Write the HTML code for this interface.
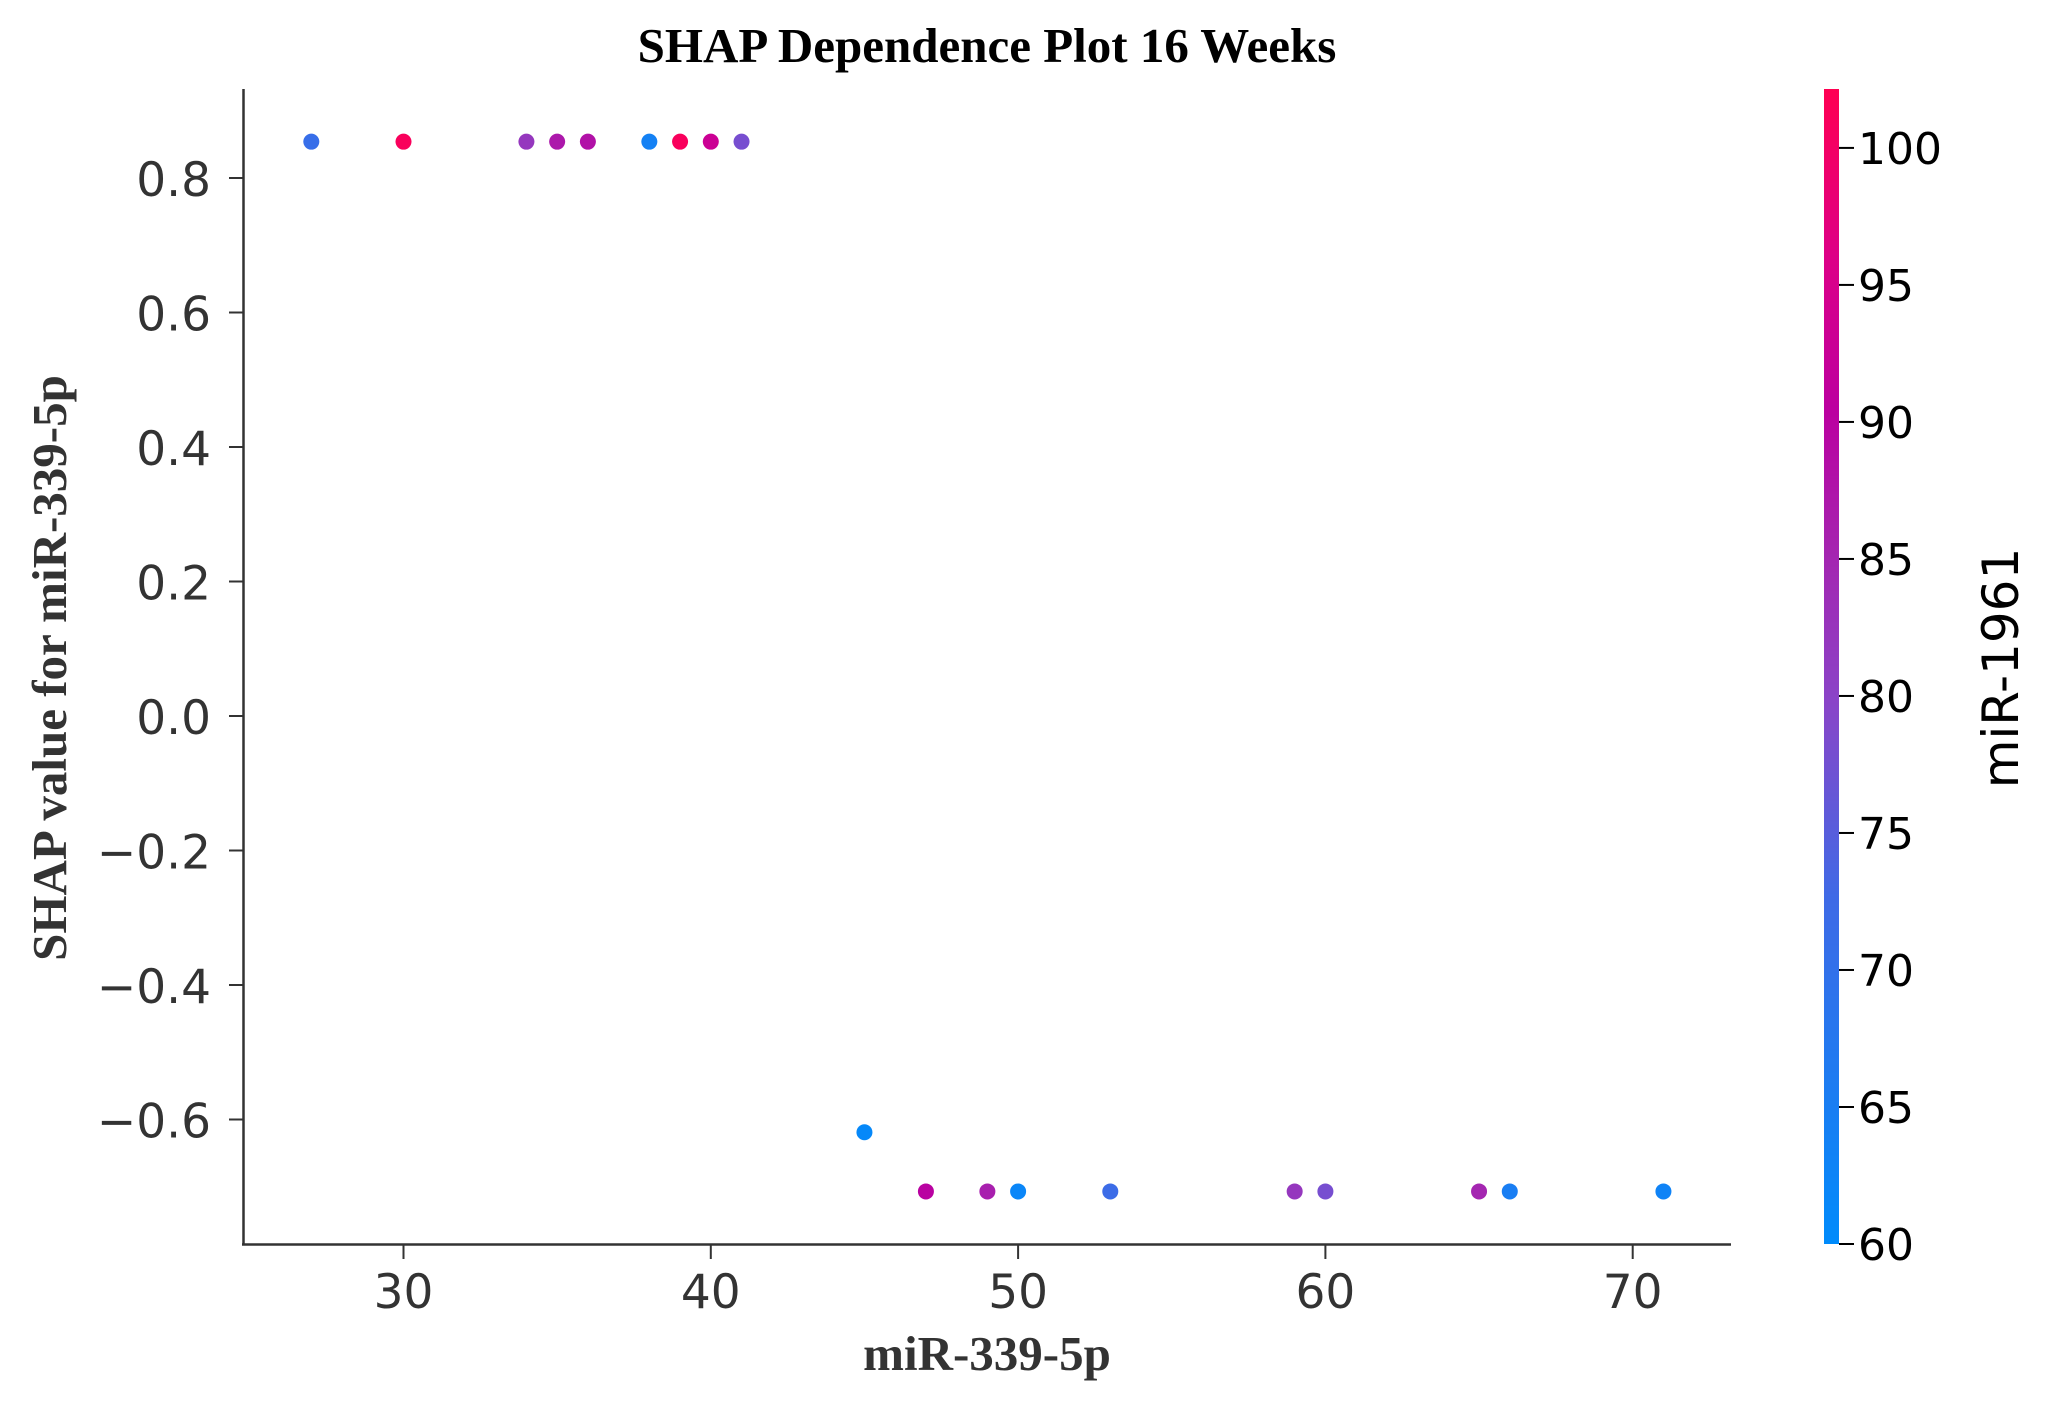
<!DOCTYPE html>
<html><head><meta charset="utf-8"><style>
html,body{margin:0;padding:0;background:#fff}
svg{display:block}
</style></head><body>
<svg id="chart" width="2053" height="1411" xmlns="http://www.w3.org/2000/svg">
<defs>
<linearGradient id="cbgrad" x1="0" y1="1" x2="0" y2="0">
<stop offset="0" stop-color="#008bfb"/>
<stop offset="0.3" stop-color="#3f6ae6"/>
<stop offset="0.47" stop-color="#8a44c8"/>
<stop offset="0.6" stop-color="#a524b0"/>
<stop offset="0.72" stop-color="#bb00a0"/>
<stop offset="0.85" stop-color="#dc0088"/>
<stop offset="1" stop-color="#ff0052"/>
</linearGradient>
</defs>
<text x="987" y="62" text-anchor="middle" font-family="Liberation Serif, serif" font-weight="bold" font-size="49" fill="#000">SHAP Dependence Plot 16 Weeks</text>
<g id="axes"></g>
<g id="points"></g>
<text x="987" y="1370" text-anchor="middle" font-family="Liberation Serif, serif" font-weight="bold" font-size="49" fill="#333">miR-339-5p</text>
<text transform="translate(66,668) rotate(-90)" text-anchor="middle" font-family="Liberation Serif, serif" font-weight="bold" font-size="49" fill="#333">SHAP value for miR-339-5p</text>
<rect x="1824" y="89" width="15" height="1155" fill="url(#cbgrad)"/>
<g id="cbticks"></g>
<text transform="translate(2018,668) rotate(-90)" text-anchor="middle" font-family="DejaVu Sans, sans-serif" font-size="50" fill="#000">miR-1961</text>
</svg>
<script>
const xValues = [27,30,34,35,36,38,39,40,41,45,47,49,50,53,59,60,65,66,71];
const shapValues = [0.854,0.854,0.854,0.854,0.854,0.854,0.854,0.854,0.854,-0.619,-0.707,-0.707,-0.707,-0.707,-0.707,-0.707,-0.707,-0.707,-0.707];
const colorValues = [71,101,82,87,88,64,101,93,78,61,90,86,62,72,82,78,85,65,63];
const xTicks = [30,40,50,60,70];
const yTicks = [0.8,0.6,0.4,0.2,0.0,-0.2,-0.4,-0.6];
const cbTicks = [60,65,70,75,80,85,90,95,100];
const NS="http://www.w3.org/2000/svg";
const xScale = v => 403.5 + (v-30)*30.73;
const yScale = v => 716 - v*672.5;
const cMin=60, cMax=102.15;
const cbScale = v => 1244 - (v-cMin)*(1155/(cMax-cMin));
const stops=[[0,[0,139,251]],[0.3,[63,106,230]],[0.47,[138,68,200]],[0.6,[165,36,176]],[0.72,[187,0,160]],[0.85,[220,0,136]],[1,[255,0,82]]];
function cmap(v){let t=Math.max(0,Math.min(1,(v-cMin)/(cMax-cMin)));
for(let i=1;i<stops.length;i++){if(t<=stops[i][0]){const a=stops[i-1],b=stops[i];const f=(t-a[0])/(b[0]-a[0]);
return 'rgb('+a[1].map((c,k)=>Math.round(c+(b[1][k]-c)*f)).join(',')+')';}}return 'rgb(255,0,82)';}
function mk(tag,attrs,parent,text){const e=document.createElementNS(NS,tag);for(const k in attrs)e.setAttribute(k,attrs[k]);if(text!==undefined)e.textContent=text;parent.appendChild(e);return e;}
const axes=document.getElementById('axes');
let l=mk('line',{x1:243.5,y1:89,x2:243.5,y2:1245,stroke:'#333','stroke-width':2.5},axes);


l=mk('line',{x1:242,y1:1244.5,x2:1731,y2:1244.5,stroke:'#333','stroke-width':2.5},axes);


xTicks.forEach(v=>{const x=xScale(v);
const t=mk('line',{x1:x,y1:1245,x2:x,y2:1259,stroke:'#333','stroke-width':2},axes);


const tx=mk('text',{x:x,y:1308,'text-anchor':'middle','font-family':'DejaVu Sans, sans-serif','font-size':47,fill:'#333'},axes,String(v));

});
yTicks.forEach(v=>{const y=yScale(v);
const t=mk('line',{x1:229,y1:y,x2:243.5,y2:y,stroke:'#333','stroke-width':2},axes);


const s=(v<0?'\u2212':'')+Math.abs(v).toFixed(1);
const tx=mk('text',{x:211,y:y+18,'text-anchor':'end','font-family':'DejaVu Sans, sans-serif','font-size':47,fill:'#333'},axes,s);

});
const pts=document.getElementById('points');
xValues.forEach((v,i)=>{const c=mk('circle',{cx:xScale(v),cy:yScale(shapValues[i]),r:8,fill:cmap(colorValues[i])},pts);

});
const cbt=document.getElementById('cbticks');
cbTicks.forEach(v=>{const y=cbScale(v);
const t=mk('line',{x1:1839,y1:y,x2:1854,y2:y,stroke:'#000','stroke-width':2},cbt);


const tx=mk('text',{x:1858,y:y+16,'font-family':'DejaVu Sans, sans-serif','font-size':44,fill:'#000'},cbt,String(v));

});
</script>
</body></html>
